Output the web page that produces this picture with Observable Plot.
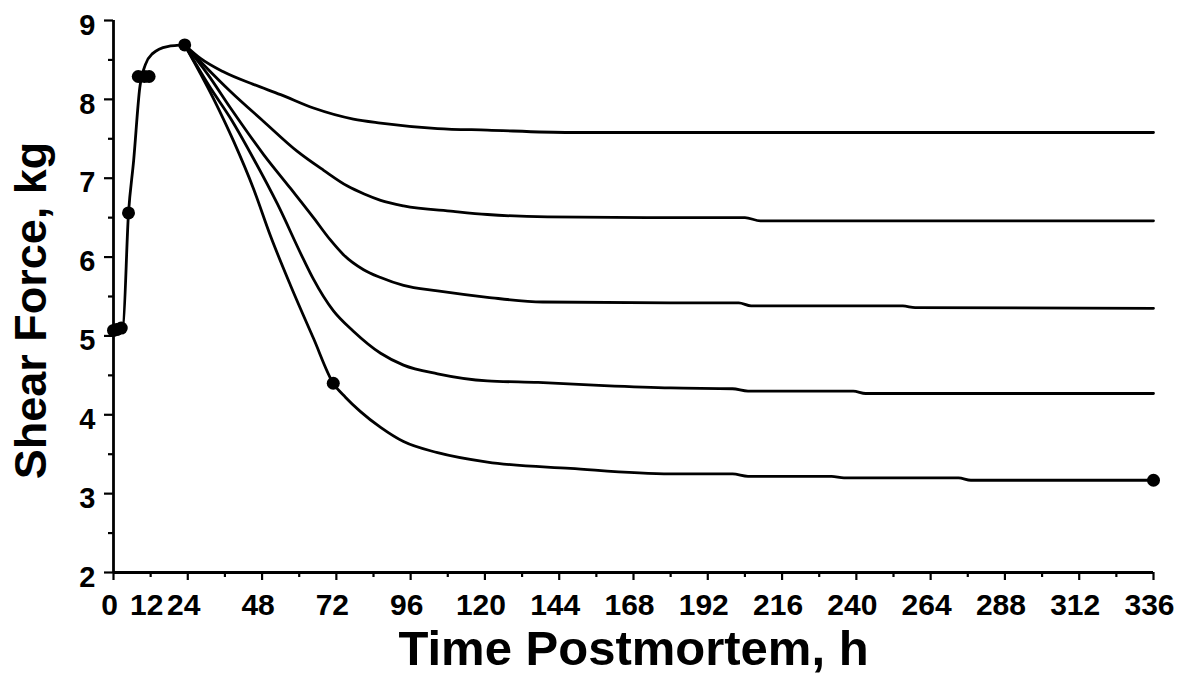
<!DOCTYPE html>
<html><head><meta charset="utf-8">
<script src="https://cdn.jsdelivr.net/npm/d3@7"></script>
<script src="https://cdn.jsdelivr.net/npm/@observablehq/plot@0.6"></script>
<style>body{margin:0;background:#fff}</style>
</head><body><div id="chart"></div>
<script>
// Rise phase (shared)
const riseHours  = [0, 3, 4.85, 6.5, 8.5, 10.3, 12.6, 17.4, 23];
const riseValues = [5.07, 5.1, 6.56, 7.22, 8.15, 8.44, 8.58, 8.67, 8.69];

// Five tenderization curves after the peak
const curve1Hours  = [23, 28.1, 35.5, 45.2, 54, 64.6, 77.5, 86.3, 104.7, 120.8, 147.6, 180, 260, 336];
const curve1Values = [8.69, 8.52, 8.35, 8.19, 8.06, 7.89, 7.75, 7.70, 7.63, 7.61, 7.58, 7.58, 7.58, 7.58];

const curve2Hours  = [23, 29.1, 37.8, 48.5, 59.4, 67.9, 75.6, 81, 86.3, 93.7, 109.8, 120.8, 140.2, 180, 204, 209, 336];
const curve2Values = [8.69, 8.44, 8.10, 7.72, 7.34, 7.10, 6.90, 6.80, 6.72, 6.65, 6.58, 6.54, 6.51, 6.50, 6.50, 6.46, 6.46];

const curve3Hours  = [23, 30.4, 37.8, 48.5, 57.2, 64.6, 70, 74.3, 80.8, 86.3, 93.7, 104.7, 120.8, 138.6, 180, 202, 206, 255, 259, 336];
const curve3Values = [8.69, 8.32, 7.89, 7.30, 6.87, 6.50, 6.22, 6.03, 5.84, 5.74, 5.64, 5.57, 5.49, 5.43, 5.42, 5.42, 5.38, 5.38, 5.36, 5.35];

const curve4Hours  = [23, 31.4, 37.8, 45.2, 53, 61.4, 64.6, 71, 77.5, 86.3, 93.7, 104.7, 120.8, 137.2, 158.5, 180, 200, 205, 239, 243, 336];
const curve4Values = [8.69, 8.14, 7.76, 7.25, 6.67, 5.97, 5.72, 5.32, 5.06, 4.78, 4.63, 4.52, 4.43, 4.41, 4.37, 4.34, 4.33, 4.30, 4.30, 4.27, 4.27];

const curve5Hours  = [23, 32.3, 38.8, 45.2, 50.7, 57.2, 64.6, 71, 75, 79.8, 86.3, 93.7, 104.7, 120.8, 147.6, 180, 200, 205, 232, 236, 273, 277, 336];
const curve5Values = [8.69, 8.01, 7.47, 6.87, 6.27, 5.64, 4.97, 4.40, 4.22, 4.04, 3.84, 3.66, 3.52, 3.40, 3.32, 3.25, 3.25, 3.22, 3.22, 3.20, 3.20, 3.17, 3.17];

// Marked data points
const markerHours  = [0, 1, 2.5, 4.85, 8, 10, 11.5, 23, 71, 336];
const markerValues = [5.07, 5.08, 5.1, 6.56, 8.29, 8.29, 8.29, 8.69, 4.40, 3.17];

// Axis ticks and labels
const xMajorTicks = [0, 24, 48, 72, 96, 120, 144, 168, 192, 216, 240, 264, 288, 312, 336];
const xMinorTicks = [12, 36, 60, 84, 108, 132, 156, 180, 204, 228, 252, 276, 300, 324];
const xTickLabels = [0, 12, 24, 48, 72, 96, 120, 144, 168, 192, 216, 240, 264, 288, 312, 336];
const yMajorTicks = [2, 3, 4, 5, 6, 7, 8, 9];
const yMinorTicks = [2.5, 3.5, 4.5, 5.5, 6.5, 7.5, 8.5];
const xTitle = "Time Postmortem, h";
const yTitle = "Shear Force, kg";

const seriesList = [
  ["rise", riseHours, riseValues],
  ["c1", curve1Hours, curve1Values],
  ["c2", curve2Hours, curve2Values],
  ["c3", curve3Hours, curve3Values],
  ["c4", curve4Hours, curve4Values],
  ["c5", curve5Hours, curve5Values]
];
const rows = seriesList.flatMap(([name, hs, vs]) => hs.map((h, i) => ({series: name, h, v: vs[i]})));
const markers = markerHours.map((h, i) => ({h, v: markerValues[i]}));

const font = "'Liberation Sans', Arial, Helvetica, sans-serif";

const chart = Plot.plot({
  width: 1190,
  height: 681,
  marginLeft: 113,
  marginRight: 37,
  marginTop: 20,
  marginBottom: 109,
  style: {fontFamily: font, color: "black", background: "white"},
  x: {domain: [0, 336]},
  y: {domain: [2, 9]},
  marks: [
    Plot.axisX({ticks: xMajorTicks, tickSize: 8, strokeWidth: 2.2, tickFormat: () => "", label: null}),
    Plot.axisX({ticks: xMinorTicks, tickSize: 5, strokeWidth: 2.2, tickFormat: () => "", label: null}),
    Plot.axisX({ticks: xTickLabels, tickSize: 0, tickPadding: 21, dx: -4, fontSize: 30, fontWeight: "bold", tickFormat: d => String(d), label: null}),
    Plot.axisY({ticks: yMajorTicks, tickSize: 9, strokeWidth: 2.2, tickFormat: () => "", label: null}),
    Plot.axisY({ticks: yMinorTicks, tickSize: 5, strokeWidth: 2.2, tickFormat: () => "", label: null}),
    Plot.axisY({ticks: yMajorTicks, tickSize: 0, tickPadding: 18, dy: 5, fontSize: 29, fontWeight: "bold", tickFormat: d => String(d), label: null}),
    Plot.ruleY([2], {stroke: "black", strokeWidth: 2.8}),
    Plot.ruleX([0], {stroke: "black", strokeWidth: 2.8}),
    Plot.line(rows, {x: "h", y: "v", z: "series", stroke: "black", strokeWidth: 2.8, curve: "monotone-x"}),
    Plot.dot(markers, {x: "h", y: "v", r: 6.5, fill: "black", stroke: "none"}),
    Plot.text([yTitle], {text: d => d, frameAnchor: "left", rotate: -90, dx: -82, dy: 14, fontSize: 45, fontWeight: "bold", lineAnchor: "middle", textAnchor: "middle"}),
    Plot.text([xTitle], {text: d => d, frameAnchor: "bottom", dy: 77, fontSize: 49, fontWeight: "bold", lineAnchor: "middle", textAnchor: "middle"})
  ]
});
document.getElementById("chart").appendChild(chart);
</script></body></html>
